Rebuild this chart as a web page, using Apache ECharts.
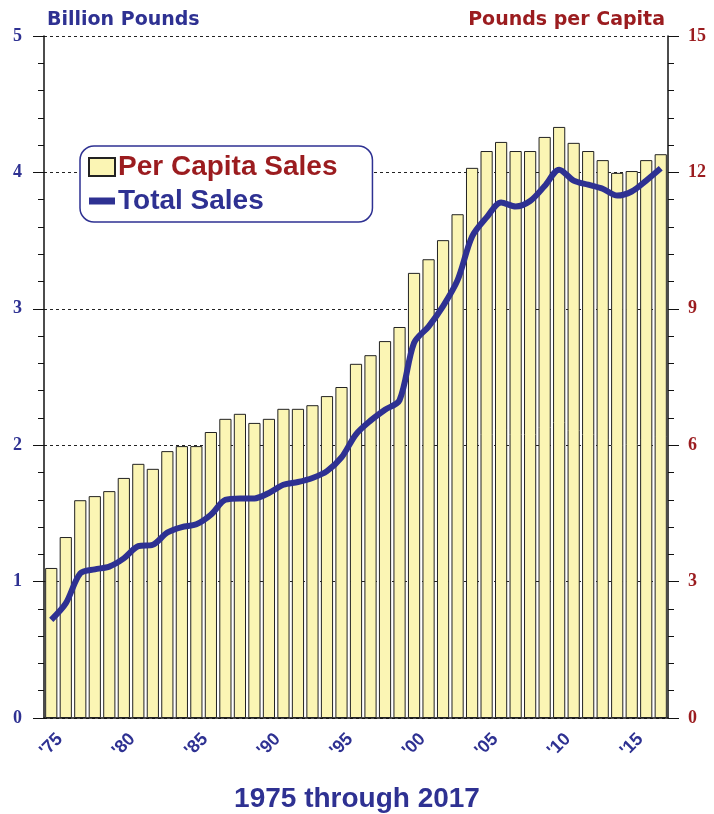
<!DOCTYPE html>
<html lang="en">
<head>
  <meta charset="UTF-8" />
  <title>Sales 1975-2017</title>
  <script src="https://cdn.jsdelivr.net/npm/echarts@6/dist/echarts.min.js"></script>
  <style>
    html, body { margin: 0; padding: 0; background: #fff; }
    #chart { width: 714px; height: 814px; }
  </style>
</head>
<body>
  <div id="chart"></div>
  <script>
    var years = [];
    for (var y = 1975; y <= 2017; y++) years.push(y);

    // pounds per capita (right axis)
    var perCapita = [
      3.30, 3.98, 4.79, 4.88, 4.99, 5.28, 5.59, 5.48, 5.87, 5.98,
      5.98, 6.29, 6.58, 6.69, 6.49, 6.58, 6.80, 6.80, 6.88, 7.08,
      7.28, 7.79, 7.98, 8.29, 8.60, 9.79, 10.09, 10.51, 11.08, 12.10,
      12.47, 12.67, 12.47, 12.47, 12.78, 13.00, 12.65, 12.47, 12.27, 11.99,
      12.03, 12.27, 12.40
    ];

    // total sales, billion pounds (left axis)
    var totalSales = [
      0.72, 0.84, 1.06, 1.09, 1.11, 1.17, 1.26, 1.27, 1.36, 1.40,
      1.42, 1.49, 1.60, 1.61, 1.61, 1.65, 1.71, 1.73, 1.76, 1.81,
      1.91, 2.08, 2.18, 2.26, 2.33, 2.75, 2.87, 3.02, 3.21, 3.53,
      3.67, 3.78, 3.75, 3.79, 3.90, 4.02, 3.94, 3.91, 3.88, 3.83,
      3.86, 3.94, 4.03
    ];

    var navy = "#2e3192";
    var maroon = "#9b1c1f";

    var chart = echarts.init(document.getElementById("chart"));
    chart.setOption({
      animation: false,
      backgroundColor: "#fff",
      title: [
        {
          text: "Billion Pounds", left: 42, top: 6,
          textStyle: { fontFamily: "DejaVu Sans", fontWeight: "bold", fontSize: 19, color: navy }
        },
        {
          text: "Pounds per Capita", right: 44, top: 6,
          textStyle: { fontFamily: "DejaVu Sans", fontWeight: "bold", fontSize: 19, color: maroon }
        },
        {
          text: "1975 through 2017", left: "center", top: 780,
          textStyle: { fontFamily: "Liberation Sans", fontWeight: "bold", fontSize: 28, color: navy }
        }
      ],
      legend: {
        orient: "vertical",
        left: 80,
        top: 146,
        padding: [7, 35, 7, 8],
        itemGap: 6,
        itemWidth: 26,
        itemHeight: 18,
        backgroundColor: "#fff",
        borderColor: navy,
        borderWidth: 1.5,
        borderRadius: 14,
        textStyle: { fontFamily: "Liberation Sans", fontWeight: "bold", fontSize: 28, padding: [0, 0, 0, -2] },
        data: [
          { name: "Per Capita Sales", icon: "rect", textStyle: { color: maroon } },
          { name: "Total Sales", icon: "path://M0,0L26,0L26,7L0,7Z", itemStyle: { color: navy }, textStyle: { color: navy } }
        ]
      },
      grid: { left: 44, right: 46, top: 36, bottom: 96, containLabel: false },
      xAxis: {
        type: "category",
        data: years,
        axisLine: { lineStyle: { color: "#111", width: 1.5 } },
        axisTick: { alignWithLabel: true, interval: 0, length: 11, lineStyle: { color: "#111" } },
        axisLabel: {
          interval: function (i) { return i % 5 === 0; },
          formatter: function (v) { return "'" + String(v).slice(2); },
          rotate: 45,
          align: "center",
          verticalAlign: "middle",
          margin: 27,
          fontFamily: "Liberation Sans",
          fontWeight: "bold",
          fontSize: 18,
          color: navy
        }
      },
      yAxis: [
        {
          type: "value", min: 0, max: 5, interval: 1, position: "left",
          axisLine: { show: true, lineStyle: { color: "#111", width: 1.5 } },
          axisTick: { show: true, length: 11, lineStyle: { color: "#111" } },
          minorTick: { show: true, splitNumber: 5, length: 6, lineStyle: { color: "#111" } },
          splitLine: { show: true, lineStyle: { color: "#222", type: [3, 3], width: 1 } },
          axisLabel: { margin: 22, fontFamily: "Liberation Serif", fontWeight: "bold", fontSize: 18, color: navy }
        },
        {
          type: "value", min: 0, max: 15, interval: 3, position: "right",
          axisLine: { show: true, lineStyle: { color: "#111", width: 1.5 } },
          axisTick: { show: true, length: 11, lineStyle: { color: "#111" } },
          minorTick: { show: true, splitNumber: 5, length: 6, lineStyle: { color: "#111" } },
          splitLine: { show: false },
          axisLabel: { margin: 20, fontFamily: "Liberation Serif", fontWeight: "bold", fontSize: 18, color: maroon }
        }
      ],
      series: [
        {
          name: "Per Capita Sales",
          type: "bar",
          yAxisIndex: 1,
          data: perCapita,
          barCategoryGap: "16%",
          itemStyle: { color: "#fbf5b4", borderColor: "#222", borderWidth: 1 }
        },
        {
          name: "Total Sales",
          type: "line",
          yAxisIndex: 0,
          data: totalSales,
          smooth: 0.3,
          symbol: "none",
          z: 5,
          itemStyle: { color: navy },
          lineStyle: { color: navy, width: 6 }
        }
      ]
    });
  </script>
</body>
</html>
